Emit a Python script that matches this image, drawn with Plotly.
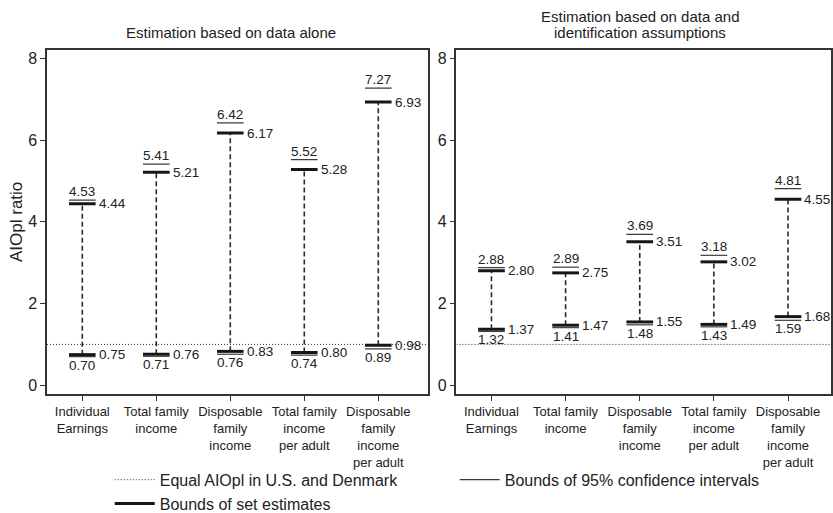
import plotly.graph_objects as go

# ---------------- data ----------------
categories = ["Individual<br>Earnings", "Total family<br>income",
              "Disposable<br>family<br>income", "Total family<br>income<br>per adult",
              "Disposable<br>family<br>income<br>per adult"]

# Panel 1: Estimation based on data alone
p1_ci_hi = [4.53, 5.41, 6.42, 5.52, 7.27]
p1_set_hi = [4.44, 5.21, 6.17, 5.28, 6.93]
p1_set_lo = [0.75, 0.76, 0.83, 0.80, 0.98]
p1_ci_lo = [0.70, 0.71, 0.76, 0.74, 0.89]

# Panel 2: Estimation based on data and identification assumptions
p2_ci_hi = [2.88, 2.89, 3.69, 3.18, 4.81]
p2_set_hi = [2.80, 2.75, 3.51, 3.02, 4.55]
p2_set_lo = [1.37, 1.47, 1.55, 1.49, 1.68]
p2_ci_lo = [1.32, 1.41, 1.48, 1.43, 1.59]

equal_ratio = 1.0
titles = ["Estimation based on data alone",
          "Estimation based on data and<br>identification assumptions"]
y_title = "AIOpl ratio"
legend_names = ["Equal AIOpl in U.S. and Denmark",
                "Bounds of 95% confidence intervals",
                "Bounds of set estimates"]

# ---------------- styling ----------------
FONT = "Liberation Sans, Arial, sans-serif"
TXT = "#222222"
HALF = 0.18
X1_RANGE = [-0.477, 4.667]
X2_RANGE = [-0.472, 4.58]
Y_RANGE = [-0.213, 8.203]

fig = go.Figure()


def hbars(values, xs):
    X, Y = [], []
    for x, v in zip(xs, values):
        X += [x - HALF, x + HALF, None]
        Y += [v, v, None]
    return X, Y


def vlines(lo, hi, xs):
    X, Y = [], []
    for x, a, b in zip(xs, lo, hi):
        X += [x, x, None]
        Y += [a, b, None]
    return X, Y


annotations = []
panels = [
    ("x", "y", X1_RANGE, p1_ci_hi, p1_set_hi, p1_set_lo, p1_ci_lo),
    ("x2", "y2", X2_RANGE, p2_ci_hi, p2_set_hi, p2_set_lo, p2_ci_lo),
]
xs = list(range(len(categories)))
for k, (xa, ya, xr, ci_hi, set_hi, set_lo, ci_lo) in enumerate(panels):
    first = k == 0
    # equality line
    fig.add_trace(go.Scatter(x=xr, y=[equal_ratio, equal_ratio], xaxis=xa, yaxis=ya,
                             mode="lines", line=dict(color="#333333", width=1, dash="1px,2px"),
                             name=legend_names[0], showlegend=first, legendrank=1,
                             hoverinfo="skip"))
    # dashed connectors
    X, Y = vlines(set_lo, set_hi, xs)
    fig.add_trace(go.Scatter(x=X, y=Y, xaxis=xa, yaxis=ya, mode="lines",
                             line=dict(color="#2a2a2a", width=1.6, dash="5px,3px"),
                             showlegend=False, hoverinfo="skip"))
    # CI bounds
    X, Y = hbars(ci_hi + ci_lo, xs + xs)
    fig.add_trace(go.Scatter(x=X, y=Y, xaxis=xa, yaxis=ya, mode="lines",
                             line=dict(color="#3a3a3a", width=1.2),
                             name=legend_names[1], showlegend=first, legendrank=2,
                             hoverinfo="skip"))
    # set estimate bounds
    X, Y = hbars(set_hi + set_lo, xs + xs)
    fig.add_trace(go.Scatter(x=X, y=Y, xaxis=xa, yaxis=ya, mode="lines",
                             line=dict(color="#161616", width=3),
                             name=legend_names[2], showlegend=first, legendrank=3,
                             hoverinfo="skip"))
    lf = dict(family=FONT, size=13.5, color=TXT)
    for i in xs:
        annotations.append(dict(xref=xa, yref=ya, x=i, y=ci_hi[i], text=f"{ci_hi[i]:.2f}",
                                showarrow=False, xanchor="center", yanchor="bottom",
                                font=lf, yshift=-1))
        annotations.append(dict(xref=xa, yref=ya, x=i + HALF, y=set_hi[i], text=f"{set_hi[i]:.2f}",
                                showarrow=False, xanchor="left", yanchor="middle",
                                font=lf, xshift=1))
        annotations.append(dict(xref=xa, yref=ya, x=i + HALF, y=set_lo[i], text=f"{set_lo[i]:.2f}",
                                showarrow=False, xanchor="left", yanchor="middle",
                                font=lf, xshift=1))
        annotations.append(dict(xref=xa, yref=ya, x=i, y=ci_lo[i], text=f"{ci_lo[i]:.2f}",
                                showarrow=False, xanchor="center", yanchor="top",
                                font=lf, yshift=1))

# panel titles (right one split into two tightly spaced lines)
tf = dict(family=FONT, size=15, color=TXT)
annotations.append(dict(xref="paper", yref="paper", x=0.235, y=1.0, yshift=18,
                        text=titles[0], showarrow=False, xanchor="center", yanchor="middle",
                        font=tf, borderpad=0))
for j, line in enumerate(titles[1].split("<br>")):
    annotations.append(dict(xref="paper", yref="paper", x=0.757, y=1.0, yshift=34 - 16 * j,
                            text=line, showarrow=False, xanchor="center", yanchor="middle",
                            font=tf, borderpad=0))
# y-axis title
annotations.append(dict(xref="paper", yref="paper", x=0, y=0.5, xshift=-31,
                        text=y_title, textangle=-90, showarrow=False,
                        xanchor="center", yanchor="middle",
                        font=dict(family=FONT, size=17, color=TXT)))

axis_common = dict(showline=True, linecolor="#333333", linewidth=1.5, mirror=True,
                   showgrid=False, zeroline=False, ticks="outside", ticklen=5,
                   tickcolor="#333333", tickwidth=1, automargin=False)

fig.update_layout(
    width=833, height=513,
    margin=dict(l=47, r=2, t=50, b=119, autoexpand=False),
    paper_bgcolor="white", plot_bgcolor="white",
    font=dict(family=FONT, color=TXT),
    xaxis=dict(domain=[0, 0.4855], range=X1_RANGE, tickvals=xs, ticktext=categories,
               tickfont=dict(size=13, color=TXT), anchor="y", **axis_common),
    yaxis=dict(range=Y_RANGE, tickvals=[0, 2, 4, 6, 8], tickfont=dict(size=16, color=TXT),
               anchor="x", **axis_common),
    xaxis2=dict(domain=[0.5223, 1], range=X2_RANGE, tickvals=xs, ticktext=categories,
                tickfont=dict(size=13, color=TXT), anchor="y2", **axis_common),
    yaxis2=dict(range=Y_RANGE, tickvals=[0, 2, 4, 6, 8], tickfont=dict(size=16, color=TXT),
                anchor="x2", **axis_common),
    annotations=annotations,
    showlegend=True,
    legend=dict(orientation="h", x=0.08, xanchor="left", y=-0.2, yanchor="top",
                entrywidth=290, font=dict(family=FONT, size=16, color=TXT),
                bgcolor="rgba(0,0,0,0)", tracegroupgap=0, itemwidth=40),
)

fig.write_html("out.html")
